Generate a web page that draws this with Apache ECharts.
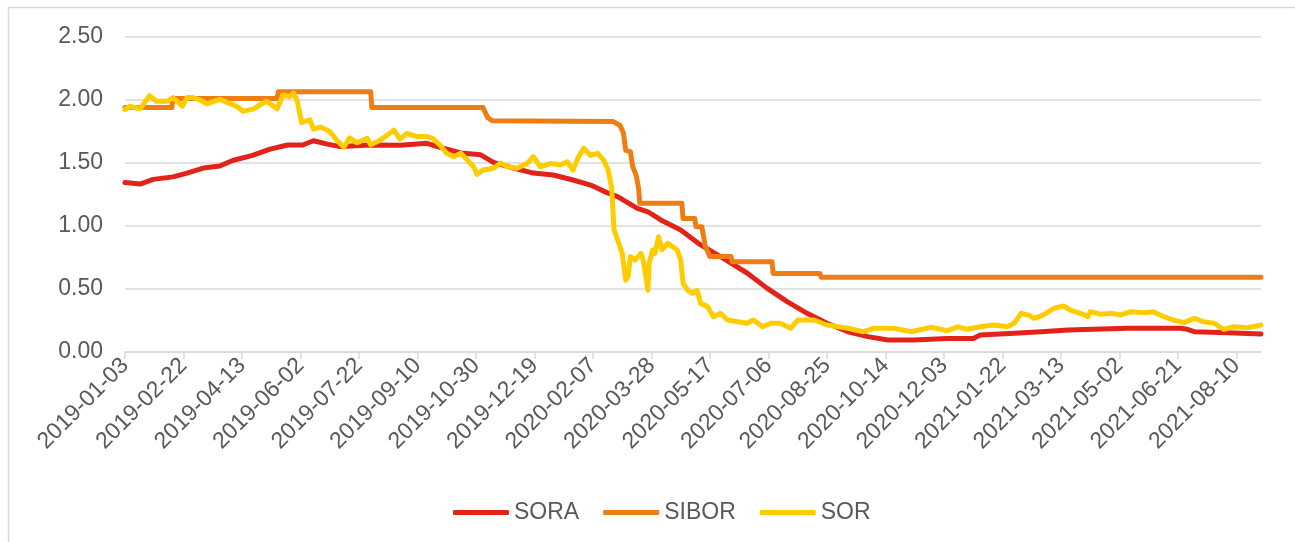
<!DOCTYPE html>
<html>
<head>
<meta charset="utf-8">
<script src="https://cdn.jsdelivr.net/npm/echarts@6/dist/echarts.min.js"></script>
<style>
  html, body { margin: 0; padding: 0; background: #fff; }
  #chart { width: 1295px; height: 542px; }
</style>
</head>
<body>
<div id="chart"></div>
<script>
// daily date axis, 2019-01-03 .. 2021-08-31, label every 50 days
const startDate = '2019-01-03'
const dayCount = 972
const labelStep = 50

// points are [day offset from 2019-01-03, rate %]
const soraPts = [
  [0, 1.345], [13, 1.333], [24, 1.37], [41, 1.39], [53, 1.42], [67, 1.46], [81, 1.476],
  [92, 1.52], [109, 1.56], [124, 1.61], [139, 1.643], [152, 1.643], [161, 1.677], [173, 1.65],
  [184, 1.63], [210, 1.643], [235, 1.64], [258, 1.656], [272, 1.617], [287, 1.58], [304, 1.565],
  [315, 1.505], [332, 1.46], [349, 1.42], [366, 1.405], [383, 1.365], [398, 1.325], [412, 1.265],
  [421, 1.233], [438, 1.14], [447, 1.113], [458, 1.048], [475, 0.968], [492, 0.85], [509, 0.757],
  [532, 0.625], [549, 0.505], [566, 0.40], [583, 0.307], [600, 0.228], [618, 0.161], [635, 0.122],
  [652, 0.095], [674, 0.095], [703, 0.108], [725, 0.108], [731, 0.135], [760, 0.148], [783, 0.161],
  [806, 0.175], [828, 0.18], [857, 0.188], [902, 0.188], [908, 0.18], [914, 0.161], [943, 0.153],
  [971, 0.143]
]

const siborPts = [
  [0, 1.94], [40, 1.94], [41, 2.012], [130, 2.012], [131, 2.065], [210, 2.065], [211, 1.94],
  [306, 1.94], [310, 1.86], [314, 1.835], [417, 1.83], [423, 1.80], [426, 1.74], [428, 1.60],
  [432, 1.59], [434, 1.47], [437, 1.40], [439, 1.30], [440, 1.18], [476, 1.18], [477, 1.06],
  [487, 1.06], [488, 0.995], [493, 0.995], [496, 0.84], [500, 0.757], [518, 0.757], [519, 0.717],
  [553, 0.717], [554, 0.624], [594, 0.624], [595, 0.593], [971, 0.593]
]

const sorPts = [
  [0, 1.926], [4, 1.95], [13, 1.93], [16, 1.97], [21, 2.035], [27, 1.99], [36, 1.99], [41, 2.02],
  [49, 1.95], [53, 2.02], [58, 2.02], [64, 2.0], [70, 1.97], [81, 2.005], [90, 1.97], [96, 1.946],
  [101, 1.91], [110, 1.93], [115, 1.96], [121, 1.99], [130, 1.93], [135, 2.04], [141, 2.026],
  [144, 2.055], [147, 2.0], [151, 1.82], [158, 1.845], [161, 1.77], [167, 1.785], [175, 1.75],
  [181, 1.68], [187, 1.625], [192, 1.70], [198, 1.66], [207, 1.695], [210, 1.645], [218, 1.68],
  [224, 1.72], [230, 1.76], [235, 1.69], [241, 1.735], [250, 1.71], [258, 1.71], [263, 1.695],
  [269, 1.643], [275, 1.577], [281, 1.55], [287, 1.577], [293, 1.52], [298, 1.47], [301, 1.41],
  [306, 1.444], [315, 1.458], [321, 1.50], [327, 1.47], [335, 1.458], [344, 1.497], [349, 1.55],
  [355, 1.47], [364, 1.497], [372, 1.484], [378, 1.51], [383, 1.444], [387, 1.537], [392, 1.617],
  [398, 1.56], [404, 1.577], [409, 1.524], [413, 1.444], [416, 1.30], [418, 0.97], [422, 0.863],
  [425, 0.783], [428, 0.571], [430, 0.598], [432, 0.757], [436, 0.73], [441, 0.783], [443, 0.73],
  [447, 0.49], [448, 0.704], [451, 0.81], [453, 0.783], [456, 0.915], [459, 0.81], [464, 0.863],
  [468, 0.836], [472, 0.81], [475, 0.73], [477, 0.545], [481, 0.49], [485, 0.466], [489, 0.49],
  [492, 0.386], [498, 0.36], [503, 0.28], [509, 0.307], [515, 0.254], [524, 0.24], [532, 0.228],
  [537, 0.254], [545, 0.20], [552, 0.228], [560, 0.228], [569, 0.188], [575, 0.254], [589, 0.254],
  [600, 0.214], [618, 0.188], [631, 0.161], [640, 0.188], [657, 0.188], [672, 0.161], [689, 0.196],
  [703, 0.169], [712, 0.20], [720, 0.18], [731, 0.20], [743, 0.214], [754, 0.20], [760, 0.228],
  [766, 0.307], [772, 0.294], [777, 0.267], [785, 0.294], [794, 0.346], [802, 0.365], [808, 0.333],
  [817, 0.307], [823, 0.28], [825, 0.32], [834, 0.30], [843, 0.307], [851, 0.294], [860, 0.32],
  [871, 0.312], [879, 0.32], [888, 0.28], [896, 0.254], [905, 0.233], [914, 0.267], [922, 0.24],
  [931, 0.228], [939, 0.18], [948, 0.20], [960, 0.193], [971, 0.214]
]

const yTicks = [0, 0.5, 1.0, 1.5, 2.0, 2.5]

// build the daily categories
const dates = []
const t0 = Date.parse(startDate + 'T00:00:00Z')
for (let i = 0; i < dayCount; i++) {
  dates.push(new Date(t0 + i * 86400000).toISOString().slice(0, 10))
}

const textColor = '#595959'
const gridColor = '#d9d9d9'
const font = 'Liberation Sans, Arial, sans-serif'
const everyStep = (i) => i % labelStep === 0

const myChart = echarts.init(document.getElementById('chart'))

function lineSeries (name, pts, color) {
  return {
    name: name,
    type: 'line',
    data: pts,
    showSymbol: false,
    symbol: 'none',
    animation: false,
    lineStyle: { color: color, width: 5, cap: 'round', join: 'round' },
    itemStyle: { color: color }
  }
}

myChart.setOption({
  animation: false,
  textStyle: { fontFamily: font },
  graphic: [{
    type: 'rect',
    shape: { x: 8.5, y: 7.5, width: 1400, height: 700 },
    style: { fill: 'none', stroke: gridColor, lineWidth: 1.5 },
    silent: true
  }],
  grid: { left: 125, right: 34, top: 37, bottom: 190, containLabel: false, outerBoundsMode: 'none' },
  legend: {
    left: 448,
    top: 496,
    itemWidth: 56,
    itemHeight: 5,
    itemGap: 24,
    icon: 'roundRect',
    textStyle: { fontSize: 23, color: textColor, fontFamily: font },
    data: ['SORA', 'SIBOR', 'SOR']
  },
  xAxis: {
    type: 'category',
    data: dates,
    boundaryGap: false,
    axisLine: { lineStyle: { color: gridColor, width: 1.5 } },
    axisTick: { show: true, interval: everyStep, length: 7, lineStyle: { color: gridColor, width: 1.5 } },
    axisLabel: {
      interval: everyStep,
      rotate: 45,
      margin: 10,
      fontSize: 23,
      color: textColor,
      fontFamily: font
    },
    splitLine: { show: false }
  },
  yAxis: {
    type: 'value',
    min: yTicks[0],
    max: yTicks[yTicks.length - 1],
    interval: 0.5,
    axisLine: { show: false },
    axisTick: { show: false },
    axisLabel: {
      margin: 22,
      fontSize: 23,
      color: textColor,
      fontFamily: font,
      formatter: v => v.toFixed(2)
    },
    splitLine: { lineStyle: { color: gridColor, width: 1.5 } }
  },
  series: [
    lineSeries('SORA', soraPts, '#e2231a'),
    lineSeries('SIBOR', siborPts, '#ee7d14'),
    lineSeries('SOR', sorPts, '#ffcc00')
  ]
})
</script>
</body>
</html>
